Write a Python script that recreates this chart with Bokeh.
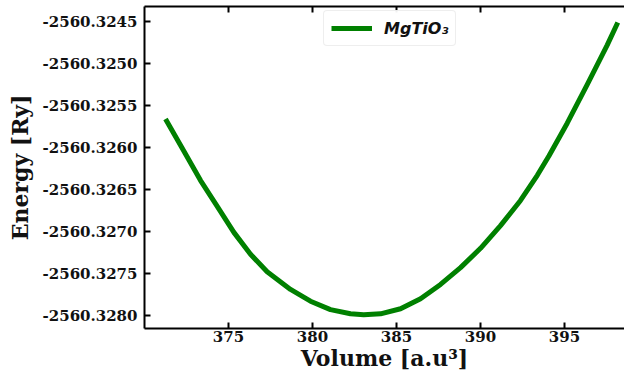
from bokeh.plotting import figure
from bokeh.models import LinearAxis, FixedTicker, PrintfTickFormatter, Range1d, Legend, LegendItem
from bokeh.embed import file_html
from bokeh.resources import INLINE

# Data
volume = [371.25, 372.34, 373.33, 374.33, 375.32, 376.31, 377.30, 378.69, 379.88,
          381.07, 382.26, 383.05, 384.05, 385.24, 386.43, 387.62, 388.81, 390.00,
          391.19, 392.38, 393.38, 394.07, 395.16, 396.35, 397.54, 398.17]
energy = [-2560.32566, -2560.32604, -2560.32639, -2560.32670, -2560.32701, -2560.32727,
          -2560.32748, -2560.32769, -2560.32783, -2560.32793, -2560.32798, -2560.32799,
          -2560.32798, -2560.32792, -2560.32780, -2560.32763, -2560.32743, -2560.32720,
          -2560.32693, -2560.32663, -2560.32633, -2560.32610, -2560.32571, -2560.32525,
          -2560.32478, -2560.32451]
x_ticks = [375, 380, 385, 390, 395]
y_ticks = [-2560.3280, -2560.3275, -2560.3270, -2560.3265, -2560.3260,
           -2560.3255, -2560.3250, -2560.3245]
series_label = "MgTiO₃"

SERIF = "DejaVu Serif"

p = figure(width=624, height=373, output_backend="svg", toolbar_location=None,
           x_range=Range1d(370.0, 398.57), y_range=Range1d(-2560.328155, -2560.32432),
           x_axis_location=None, y_axis_location=None,
           min_border_left=144, min_border_right=0, min_border_top=6, min_border_bottom=0)
p.outline_line_color = None
p.xgrid.grid_line_color = None
p.ygrid.grid_line_color = None
p.background_fill_color = "white"
p.border_fill_color = "white"

def style(ax, labels=True):
    ax.axis_line_color = "black"
    ax.axis_line_width = 2
    ax.major_tick_line_color = "black"
    ax.major_tick_line_width = 2
    ax.major_tick_in = 6
    ax.major_tick_out = 0
    ax.minor_tick_line_color = None
    ax.major_label_text_font = SERIF
    ax.major_label_text_font_style = "bold"
    ax.major_label_text_font_size = "15px" if labels else "0px"
    ax.major_label_text_color = "#111111"
    ax.axis_label_text_font = SERIF
    ax.axis_label_text_font_style = "bold"
    ax.axis_label_text_font_size = "22px"
    ax.axis_label_text_color = "#111111"

xb = LinearAxis(ticker=FixedTicker(ticks=x_ticks), axis_label="Volume [a.u³]")
style(xb)
xb.major_label_standoff = 2
xb.axis_label_standoff = 0
p.add_layout(xb, "below")

xt = LinearAxis(ticker=FixedTicker(ticks=x_ticks))
style(xt, labels=False)
xt.major_label_standoff = 0
xt.major_label_text_color = None
p.add_layout(xt, "above")

yl = LinearAxis(ticker=FixedTicker(ticks=y_ticks), axis_label="Energy [Ry]",
                formatter=PrintfTickFormatter(format="%.4f"))
style(yl)
yl.major_label_standoff = 7
yl.axis_label_standoff = 7
p.add_layout(yl, "left")

r = p.line(volume, energy, line_color="#008000", line_width=5, line_join="round")

legend = Legend(items=[LegendItem(label=series_label, renderers=[r])],
                location=(179, 282))
legend.label_text_font = "DejaVu Sans"
legend.label_text_font_style = "bold italic"
legend.label_text_font_size = "16px"
legend.label_text_color = "#111111"
legend.border_line_color = "#dddddd"
legend.border_line_width = 1
legend.border_radius = 4
legend.glyph_width = 41
legend.padding = 7
legend.margin = 0
legend.spacing = 0
legend.label_standoff = 12
p.add_layout(legend, "center")

open("out.html", "w").write(file_html(p, INLINE))
